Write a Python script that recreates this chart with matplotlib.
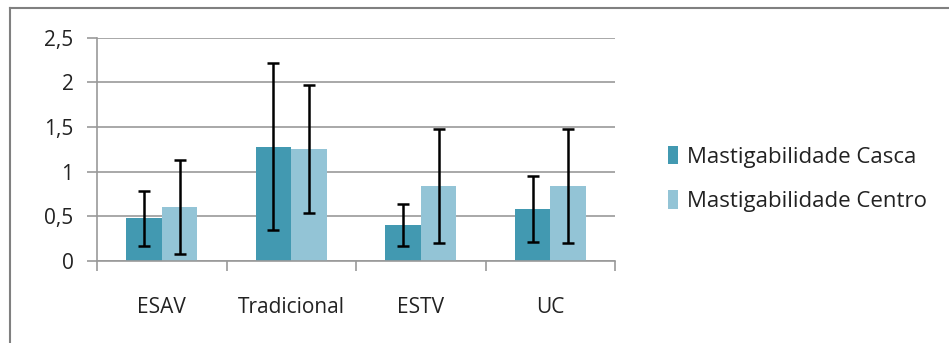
import numpy as np
import matplotlib.pyplot as plt
from matplotlib.lines import Line2D

# Data
categories = ["ESAV", "Tradicional", "ESTV", "UC"]
casca = [0.475, 1.28, 0.40, 0.58]
casca_err = [0.31, 0.94, 0.23, 0.375]
centro = [0.605, 1.25, 0.84, 0.84]
centro_err = [0.525, 0.72, 0.64, 0.64]
yticks = [0, 0.5, 1, 1.5, 2, 2.5]
ytick_labels = ["0", "0,5", "1", "1,5", "2", "2,5"]

plt.rcParams["font.family"] = ["Open Sans", "DejaVu Sans"]

fig = plt.figure(figsize=(9.49, 3.43), dpi=100)
fig.patch.set_facecolor("white")
ax = fig.add_axes([0.1022, 0.240, 0.546, 0.650])

x = np.arange(len(categories))
w = 0.275
err_style = dict(ecolor="black", elinewidth=1.8, capsize=4.5, capthick=1.8)
ax.bar(x - w / 2, casca, w, color="#4299B1", label="Mastigabilidade Casca",
       yerr=casca_err, error_kw=err_style, zorder=2)
ax.bar(x + w / 2, centro, w, color="#93C4D6", label="Mastigabilidade Centro",
       yerr=centro_err, error_kw=err_style, zorder=2)

ax.set_xlim(-0.5, len(categories) - 0.5)
ax.set_ylim(0, 2.5)
ax.set_yticks(yticks)
ax.set_yticklabels(ytick_labels, fontsize=15, color="#222222")
ax.yaxis.grid(True, color="#999999", linewidth=1.2, zorder=0)
ax.set_axisbelow(True)

ax.set_xticks(x)
ax.set_xticklabels(categories, fontsize=15, color="#222222")
ax.tick_params(axis="x", length=0, pad=26)
ax.set_xticks(np.arange(len(categories) + 1) - 0.5, minor=True)
ax.tick_params(axis="x", which="minor", length=7, width=1.2, color="#999999")
ax.tick_params(axis="y", length=7, width=1.2, color="#999999", pad=10)

for s in ["top", "right"]:
    ax.spines[s].set_visible(False)
ax.spines["left"].set_color("#999999")
ax.spines["bottom"].set_color("#999999")
ax.spines["left"].set_linewidth(1.2)
ax.spines["bottom"].set_linewidth(1.2)

leg = fig.legend(loc="center left", bbox_to_anchor=(0.683, 0.478), frameon=False,
                 fontsize=16, handlelength=0.45, handleheight=0.9,
                 handletextpad=0.4, labelspacing=1.0)
for t in leg.get_texts():
    t.set_color("#222222")

# outer chart border (only top and left visible in the crop)
fig.add_artist(Line2D([10 / 949, 1.0], [1 - 8 / 343, 1 - 8 / 343],
                      transform=fig.transFigure, color="#808080", linewidth=1.5))
fig.add_artist(Line2D([10 / 949, 10 / 949], [0, 1 - 8 / 343],
                      transform=fig.transFigure, color="#808080", linewidth=1.5))

fig.savefig("out.png", dpi=100)
